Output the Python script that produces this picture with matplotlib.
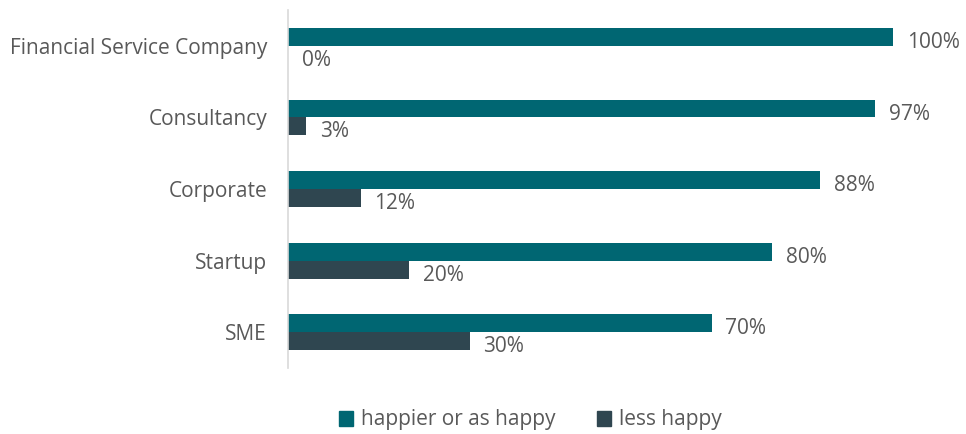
import matplotlib.pyplot as plt
import numpy as np
import matplotlib.patches as mpatches

categories = ["Financial Service Company", "Consultancy", "Corporate", "Startup", "SME"]
happier = [100, 97, 88, 80, 70]
less_happy = [0, 3, 12, 20, 30]

TEAL = "#006672"
DARK = "#2f4650"
TXT = "#595959"

plt.rcParams['font.family'] = ['Open Sans', 'DejaVu Sans']

fig = plt.figure(figsize=(9.66, 4.34), dpi=100)
ax = fig.add_axes([288 / 966, 1 - 368 / 434, (893 - 288) / 966, 358 / 434])

y = np.arange(len(categories))
h = 0.25
ax.barh(y - h / 2, happier, height=h, color=TEAL)
ax.barh(y + h / 2, less_happy, height=h, color=DARK)

for yi, v in zip(y, happier):
    ax.annotate(f"{v}%", (v, yi - h / 2), xytext=(10, -4), textcoords="offset points",
                va="center", ha="left", fontsize=15, color=TXT)
for yi, v in zip(y, less_happy):
    ax.annotate(f"{v}%", (v, yi + h / 2), xytext=(10, -4), textcoords="offset points",
                va="center", ha="left", fontsize=15, color=TXT)

ax.set_ylim(len(categories) - 0.5, -0.5)
ax.set_xlim(0, 100)
ax.set_yticks(y)
ax.set_yticklabels(categories, fontsize=15, color=TXT)
ax.tick_params(axis="y", length=0, pad=15)
ax.set_xticks([])
for s in ["top", "right", "bottom"]:
    ax.spines[s].set_visible(False)
ax.spines["left"].set_color("#d9d9d9")
ax.spines["left"].set_linewidth(1.2)

handles = [mpatches.Patch(color=TEAL, label="happier or as happy"),
           mpatches.Patch(color=DARK, label="less happy")]
fig.legend(handles=handles, loc="center", bbox_to_anchor=(530 / 966, 1 - 420 / 434), ncol=2,
           frameon=False, fontsize=15, labelcolor=TXT, handlelength=0.7, handleheight=0.7,
           handletextpad=0.35, columnspacing=2.0)

fig.savefig("out.png", dpi=100)
